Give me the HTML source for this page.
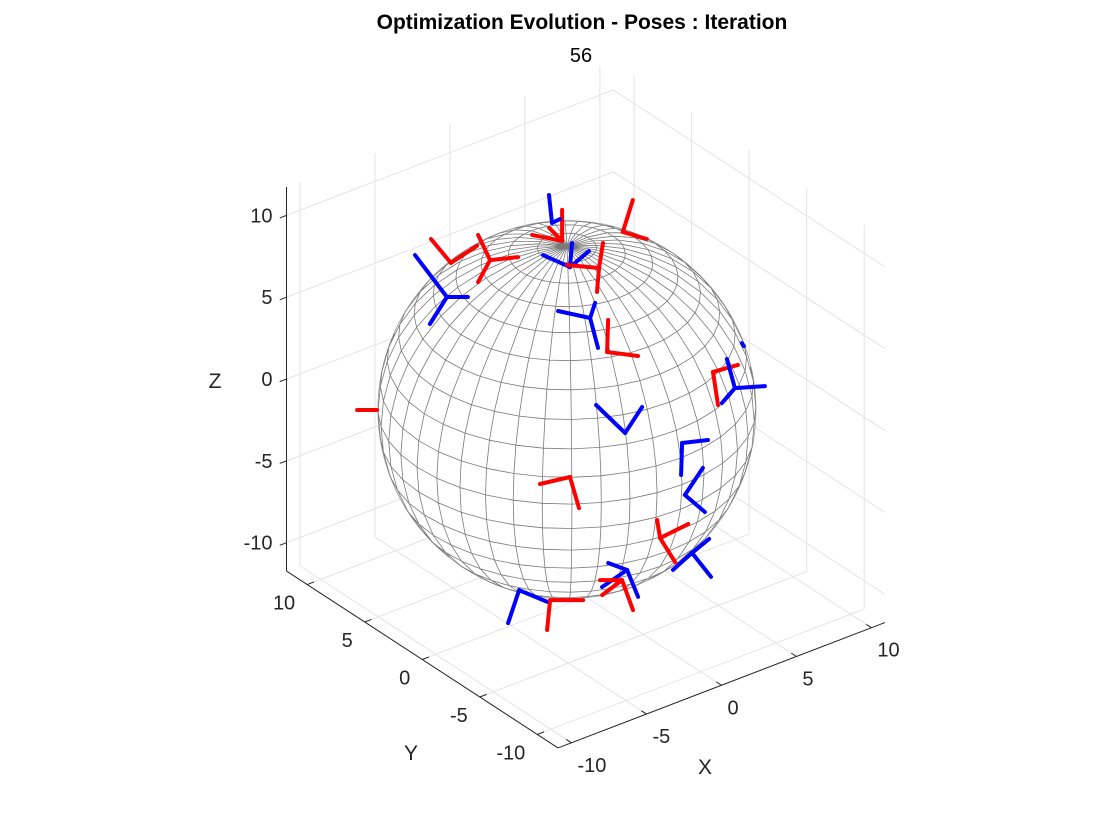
<!DOCTYPE html>
<html><head><meta charset="utf-8">
<style>
html,body{margin:0;padding:0;background:#fff;}
svg{display:block;font-family:"Liberation Sans",Arial,sans-serif;}
</style></head>
<body>
<svg id="chart" width="1120" height="840" viewBox="0 0 1120 840" xmlns="http://www.w3.org/2000/svg">
<rect width="1120" height="840" fill="#fff"/>
<text x="582" y="29" text-anchor="middle" font-size="21" font-weight="bold" fill="#000">Optimization Evolution - Poses : Iteration</text>
<text x="581" y="62" text-anchor="middle" font-size="20" fill="#000">56</text>
<g id="grid"></g>
<g id="sphere"></g>
<g id="axes"></g>
<g id="poses"></g>
</svg>
<script>
const xTicks = [-10, -5, 0, 5, 10];
const yTicks = [-10, -5, 0, 5, 10];
const zTicks = [-10, -5, 0, 5, 10];
const xTickLabels = ["-10", "-5", "0", "5", "10"];
const yTickLabels = ["-10", "-5", "0", "5", "10"];
const zTickLabels = ["-10", "-5", "0", "5", "10"];
const xLim = [-10.9, 10.9];
const yLim = [-11.8, 11.8];
const zLim = [-11.73, 11.73];
const sphereCenter = [-1.1, 0.2, 0];
const sphereRadius = 10;
const poseColor = ["r","r","b","b","r","r","r","b","b","r","r","b","b","b","b","b","r","r","b","b","r","b","r","r"];
const poseX = [4.34,1.65,1.51,1.56,2.76,-3.37,-1.68,-4.09,1.58,1.75,5.87,6.53,7.55,1.20,3.43,2.71,-1.82,0.98,2.08,-0.92,-1.30,-5.78,-4.64,-8.84];
const poseY = [2.43,4.20,4.90,3.40,2.44,7.32,6.12,6.73,1.68,0.42,-3.41,-4.46,-3.74,-1.86,-3.91,-5.09,-1.01,-5.19,-6.53,-4.80,-4.85,-1.74,-2.95,6.61];
const poseZ = [7.92,7.51,8.33,6.31,6.27,6.50,6.63,4.94,3.98,2.42,1.51,0.77,2.83,-1.29,-1.75,-4.13,-3.31,-6.11,-6.79,-7.57,-8.03,-8.49,-8.95,-0.24];
const legAngles = [[72.6,-16.3],[90,168.7,135],[96.1,26.6],[85.2,156,40.1],[80.9,-94.8,174.6],[129.8,33.2],[115.6,6.1,-118.6],[127.3,0,-122.2],[71.6,167.7,-75.1],[88.2,-7.4],[15.6,-81.4],[105.4,3.8,-130.9],[-56.3],[136,56.8],[6.6,-91.8],[56.3,-40.4],[-166.9,-73.8],[99.5,26.6,-58],[39.5,-138.2,-51.6],[159.8,-67.8,-145.8],[180,-143.1,-69.9],[-108.4,-22.5],[-95.7,0],[180]];
const legLengths = [[1.77,1.32],[1.64,1.62,0.97],[1.49,0.47],[1.27,1.56,1.31],[1.34,1.27,1.70],[1.65,1.64],[1.47,1.49,1.33],[2.79,1.11,1.69],[0.84,1.73,1.64],[1.69,1.65],[1.37,1.77],[1.59,1.59,1.05],[0.19],[2.13,1.64],[1.38,1.69],[1.72,1.39],[1.63,1.71],[0.97,1.66,1.50],[1.17,1.35,1.62],[1.07,1.54,1.60],[1.16,1.32,1.69],[1.84,1.66],[1.59,1.75],[1.06]];

const NS = "http://www.w3.org/2000/svg";
const S = 18.9, OX = 585.7, OY = 404.8;
const az = -37.5 * Math.PI / 180, el = 30 * Math.PI / 180;
const ca = Math.cos(az), sa = Math.sin(az), ce = Math.cos(el), se = Math.sin(el);
function proj(x, y, z) {
  return [OX + S * (ca * x + sa * y), OY - S * (-se * sa * x + se * ca * y + ce * z)];
}
const viewDir = [sa * ce, -ca * ce, se];
function mk(tag, attrs, parent) {
  const e = document.createElementNS(NS, tag);
  for (const k in attrs) e.setAttribute(k, attrs[k]);
  parent.appendChild(e);
  return e;
}
function line3(p, q, parent, stroke, w) {
  const a = proj(p[0], p[1], p[2]), b = proj(q[0], q[1], q[2]);
  return mk("line", {x1: a[0].toFixed(2), y1: a[1].toFixed(2), x2: b[0].toFixed(2), y2: b[1].toFixed(2), stroke: stroke, "stroke-width": w}, parent);
}
const [x0, x1] = xLim, [y0, y1] = yLim, [z0, z1] = zLim;

const grid = document.getElementById("grid");
const gc = "#e3e3e3";
xTicks.forEach(t => {
  const l1 = line3([t, y1, z0], [t, y1, z1], grid, gc, 1);
  
  
  const l2 = line3([t, y0, z0], [t, y1, z0], grid, gc, 1);
  
  
});
yTicks.forEach(t => {
  const l1 = line3([x1, t, z0], [x1, t, z1], grid, gc, 1);
  
  
  const l2 = line3([x0, t, z0], [x1, t, z0], grid, gc, 1);
  
  
});
zTicks.forEach(t => {
  const l1 = line3([x0, y1, t], [x1, y1, t], grid, gc, 1);
  
  
  const l2 = line3([x1, y0, t], [x1, y1, t], grid, gc, 1);
  
  
});

const sph = document.getElementById("sphere");
const cS = proj(sphereCenter[0], sphereCenter[1], sphereCenter[2]);
const disc = mk("circle", {cx: cS[0].toFixed(2), cy: cS[1].toFixed(2), r: (S * sphereRadius).toFixed(2), fill: "#fff", stroke: "#9a9a9a", "stroke-width": 0.8}, sph);


const nLat = 20, nLon = 40;
function sp(lat, lon) {
  return [Math.cos(lat) * Math.cos(lon), Math.cos(lat) * Math.sin(lon), Math.sin(lat)];
}
function segFront(n1, n2) {
  const m = [(n1[0] + n2[0]) / 2, (n1[1] + n2[1]) / 2, (n1[2] + n2[2]) / 2];
  return m[0] * viewDir[0] + m[1] * viewDir[1] + m[2] * viewDir[2] > -0.02;
}
let d = "";
function addSeg(n1, n2) {
  if (!segFront(n1, n2)) return;
  const a = proj(sphereCenter[0] + sphereRadius * n1[0], sphereCenter[1] + sphereRadius * n1[1], sphereCenter[2] + sphereRadius * n1[2]);
  const b = proj(sphereCenter[0] + sphereRadius * n2[0], sphereCenter[1] + sphereRadius * n2[1], sphereCenter[2] + sphereRadius * n2[2]);
  d += "M" + a[0].toFixed(1) + " " + a[1].toFixed(1) + "L" + b[0].toFixed(1) + " " + b[1].toFixed(1);
}
for (let i = 0; i <= nLat; i++) {
  const lat = -Math.PI / 2 + Math.PI * i / nLat;
  for (let j = 0; j < nLon; j++) {
    const lo1 = 2 * Math.PI * j / nLon, lo2 = 2 * Math.PI * (j + 1) / nLon;
    if (i > 0 && i < nLat) addSeg(sp(lat, lo1), sp(lat, lo2));
    if (i < nLat) {
      const lat2 = -Math.PI / 2 + Math.PI * (i + 1) / nLat;
      addSeg(sp(lat, lo1), sp(lat2, lo1));
    }
  }
}
const mesh = mk("path", {d: d, stroke: "#7a7a7a", "stroke-width": 0.8, fill: "none"}, sph);



const ax = document.getElementById("axes");
const ac = "#262626";
const zAxis = line3([x0, y1, z0], [x0, y1, z1], ax, ac, 1);


const yAxis = line3([x0, y0, z0], [x0, y1, z0], ax, ac, 1);


const xAxis = line3([x0, y0, z0], [x1, y0, z0], ax, ac, 1);


function label(txt, x, y, anchor, parent) {
  const t = mk("text", {x: x.toFixed(1), y: y.toFixed(1), "text-anchor": anchor, "font-size": 20, fill: "#262626"}, parent);
  t.textContent = txt;
  return t;
}
zTicks.forEach((t, i) => {
  const tk = line3([x0, y1, t], [x0 - 0.45, y1, t], ax, ac, 1);
  
  
  const p = proj(x0, y1, t);
  const lb = label(zTickLabels[i], p[0] - 14, p[1] + 7, "end", ax);
  
  
});
yTicks.forEach((t, i) => {
  const tk = line3([x0, t, z0], [x0 + 0.45, t, z0], ax, ac, 1);
  
  
  const p = proj(x0, t, z0);
  const lb = label(yTickLabels[i], p[0] - 12, p[1] + 25, "end", ax);
  
  
});
xTicks.forEach((t, i) => {
  const tk = line3([t, y0, z0], [t, y0 + 0.45, z0], ax, ac, 1);
  
  
  const p = proj(t, y0, z0);
  const lb = label(xTickLabels[i], p[0] + 6, p[1] + 29, "start", ax);
  
  
});
const zl = mk("text", {x: 215, y: 388, "text-anchor": "middle", "font-size": 21, fill: "#262626"}, ax);
zl.textContent = "Z";


const yl = mk("text", {x: 411, y: 760, "text-anchor": "middle", "font-size": 21, fill: "#262626"}, ax);
yl.textContent = "Y";


const xl = mk("text", {x: 705, y: 774, "text-anchor": "middle", "font-size": 21, fill: "#262626"}, ax);
xl.textContent = "X";



const pg = document.getElementById("poses");
poseX.forEach((px, i) => {
  const g = mk("g", {}, pg);
  
  
  const o = proj(px, poseY[i], poseZ[i]);
  const col = poseColor[i] === "r" ? "#ff0000" : "#0000ff";
  legAngles[i].forEach((ang, k) => {
    const a = ang * Math.PI / 180, L = legLengths[i][k] * S;
    const l = mk("line", {x1: o[0].toFixed(1), y1: o[1].toFixed(1), x2: (o[0] + L * Math.cos(a)).toFixed(1), y2: (o[1] - L * Math.sin(a)).toFixed(1), stroke: col, "stroke-width": 4, "stroke-linecap": "round"}, g);
    
    
  });
});
</script>
</body></html>
